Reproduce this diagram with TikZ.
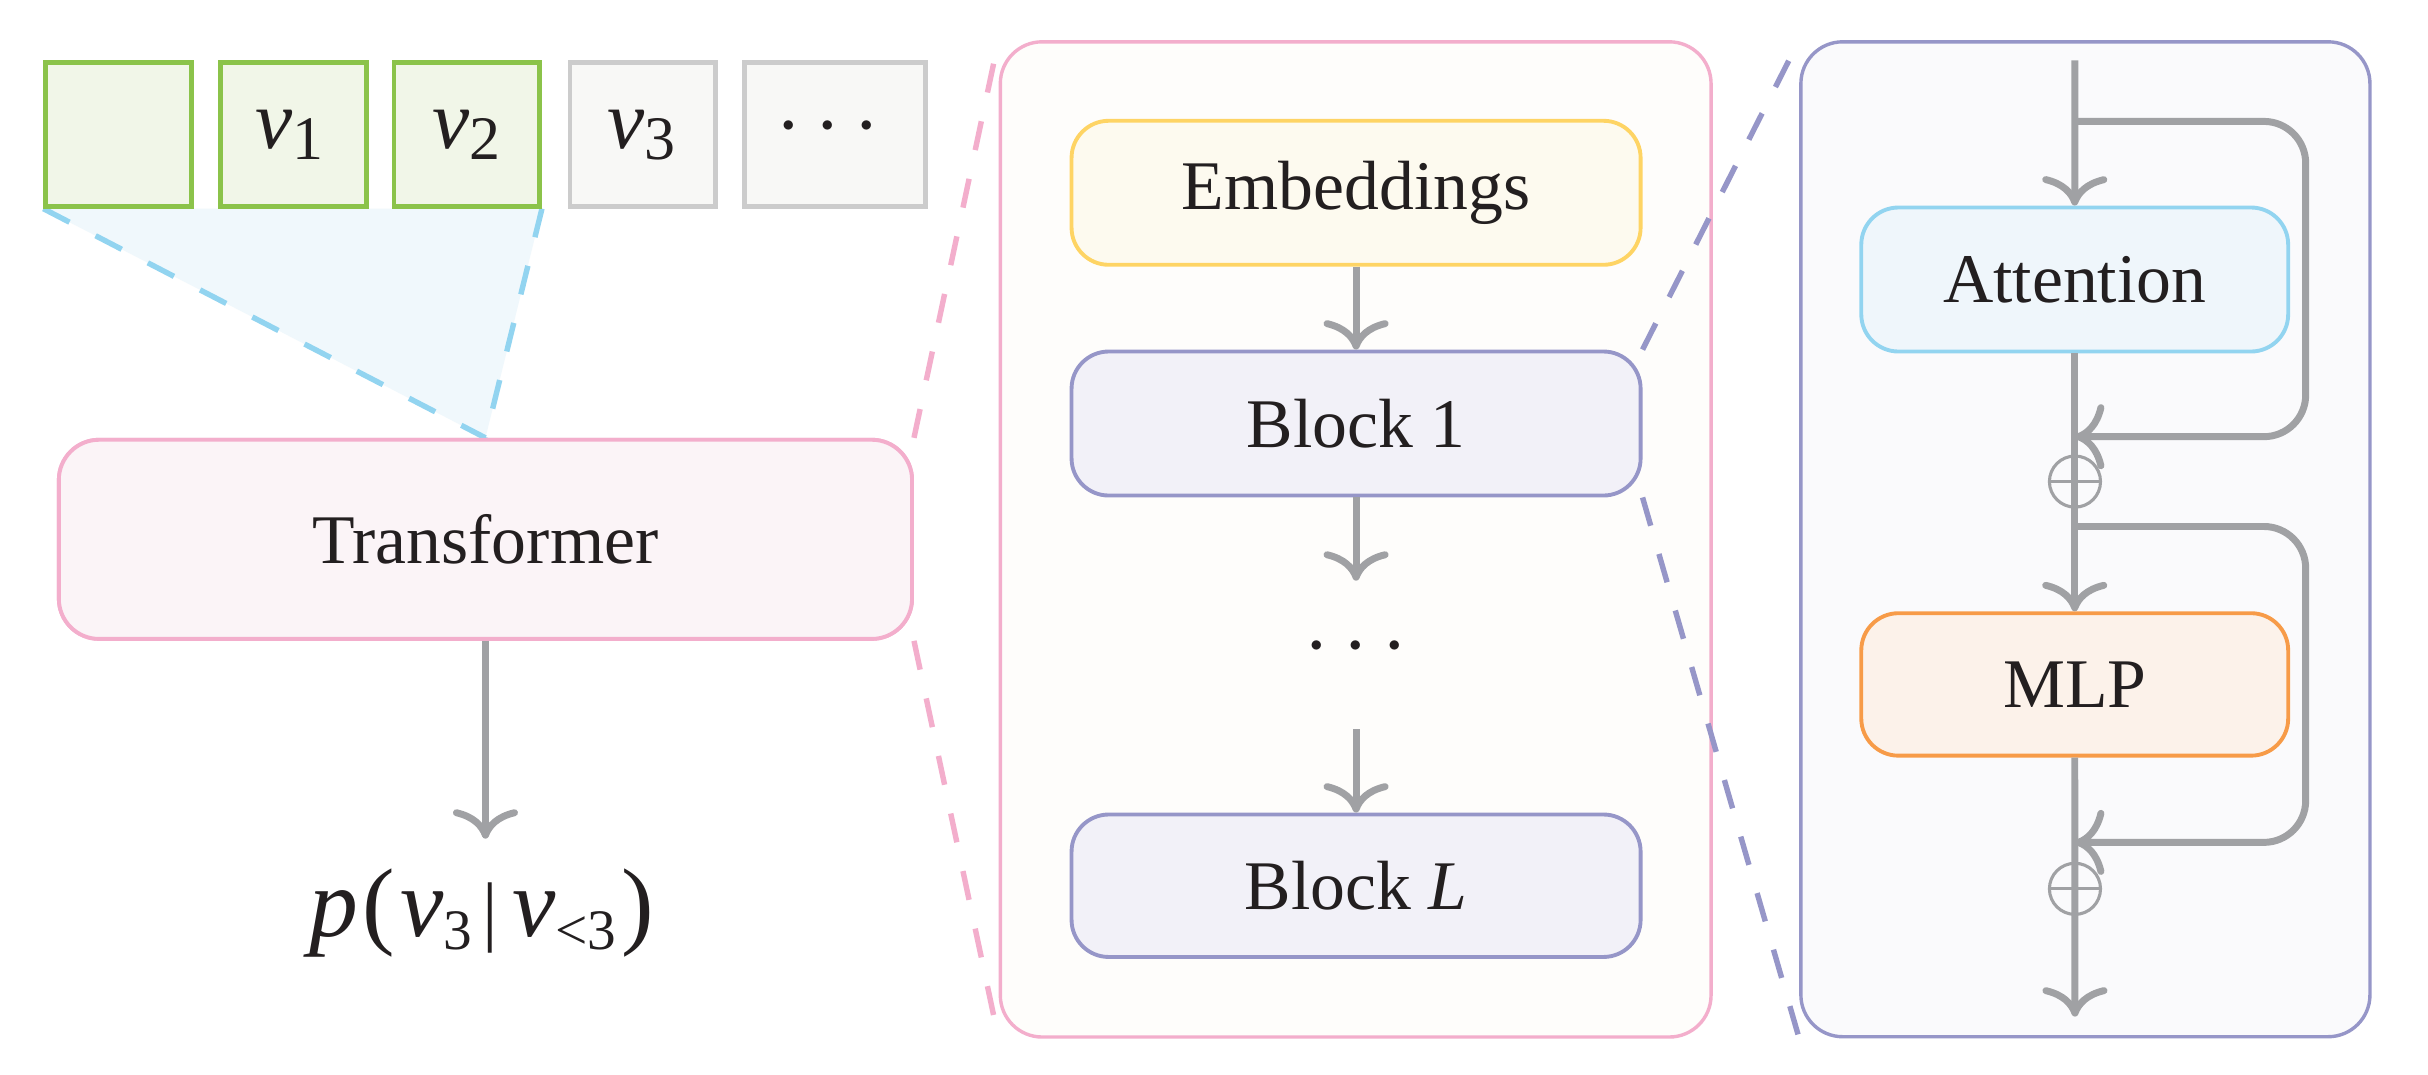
\documentclass[tikz,border=0pt]{standalone}
\usepackage{graphicx}
\usepackage{fontspec}
\setmainfont{Liberation Serif}
\usetikzlibrary{arrows.meta}
\definecolor{txt}{RGB}{35,31,32}
\definecolor{grnB}{RGB}{139,195,74}
\definecolor{grnF}{RGB}{241,246,232}
\definecolor{gryB}{RGB}{204,204,204}
\definecolor{gryF}{RGB}{248,248,246}
\definecolor{bluB}{RGB}{146,212,240}
\definecolor{bluF}{RGB}{240,248,252}
\definecolor{pnkB}{RGB}{243,174,204}
\definecolor{pnkF}{RGB}{251,244,247}
\definecolor{crmF}{RGB}{254,253,251}
\definecolor{ylwB}{RGB}{254,212,100}
\definecolor{ylwF}{RGB}{253,250,239}
\definecolor{prpB}{RGB}{150,150,200}
\definecolor{prpF}{RGB}{242,241,248}
\definecolor{panF}{RGB}{250,250,252}
\definecolor{atnF}{RGB}{239,246,251}
\definecolor{orgB}{RGB}{247,155,72}
\definecolor{orgF}{RGB}{252,242,234}
\definecolor{arr}{RGB}{160,161,164}
\newcommand{\tsub}[1]{\raisebox{-7.5pt}{\fontsize{40}{40}\selectfont #1}}
\newcommand{\lsub}[1]{\raisebox{-8pt}{\fontsize{37}{37}\selectfont #1}}
\newcommand{\bigdots}{\scalebox{5.7}{\normalsize$\cdots$}}
\begin{document}
\begin{tikzpicture}[x=1pt,y=-1pt,
  tokbox/.style={draw, line width=3pt, minimum width=94pt, minimum height=93pt, inner sep=0pt},
  greentok/.style={tokbox, draw=grnB, fill=grnF},
  graytok/.style={tokbox, draw=gryB, fill=gryF},
  blockbox/.style={draw, rounded corners=24pt, line width=2.5pt, inner sep=0pt,
     minimum width=367.5pt, minimum height=93pt, text=txt, font=\fontsize{45}{54}\selectfont},
  panelbox/.style={draw, rounded corners=27pt, line width=2.2pt, inner sep=0pt},
  gline/.style={draw=arr, line width=4.5pt},
  garr/.style={gline, -{Computer Modern Rightarrow[length=19pt,width=42pt]}},
  dsh/.style={line width=3.5pt, dash pattern=on 19pt off 19pt},
  oplus/.style={circle, draw=arr, line width=2pt, minimum size=33pt, inner sep=0pt},
  vtxt/.style={anchor=base, text=txt, inner sep=0pt, font=\fontsize{54}{60}\selectfont},
  dotstxt/.style={anchor=base, text=txt, inner sep=0pt}
]
\fill[white] (0,0) rectangle (1568,694);
\useasboundingbox (0,0) rectangle (1568,694);

% token boxes (positions first for triangle)
\path node[greentok] (tk0) at (76.5,86.75) {}
      node[greentok] (tk1) at (189.5,86.75) {}
      node[greentok] (tk2) at (301.5,86.75) {};
\path node[blockbox, draw=pnkB, fill=pnkF, rounded corners=26pt, minimum width=551pt, minimum height=128.6pt] (trans) at (313.5,348.3) {};

% triangle
\fill[bluF] (tk0.south west) -- (tk2.south east) -- (trans.north) -- cycle;
\draw[dsh, bluB] (tk0.south west) -- (trans.north);
\draw[dsh, bluB] (tk2.south east) -- (trans.north);

% tokens redrawn on top
\node[greentok] at (tk0) {};
\node[greentok] at (tk1) {};
\node[greentok] at (tk2) {};
\node[graytok] (tk3) at (415,86.75) {};
\node[graytok, minimum width=117pt] (tk4) at (539.2,86.75) {};
\node[vtxt] (v1) at (187,95.8) {\textit{v}\tsub{1}};
\node[vtxt] (v2) at (301.5,95.8) {\textit{v}\tsub{2}};
\node[vtxt] (v3) at (414,95.8) {\textit{v}\tsub{3}};
\node[dotstxt] (d1) at (534.5,95) {\bigdots};

% transformer
\node[blockbox, draw=pnkB, fill=pnkF, rounded corners=26pt, minimum width=551pt, minimum height=128.6pt] (trans2) at (313.5,348.3) {Transformer};
\coordinate (pout) at (313.5,541.6);
\draw[garr] (trans2.south) -- (pout);
\node[anchor=base, text=txt, inner sep=0pt, font=\fontsize{63}{72}\selectfont] (lbl) at (311,605)
  {\textit{p}\kern3pt(\kern3pt\textit{v}\lsub{3}\kern7pt{\fontsize{50}{50}\selectfont|}\kern9pt\textit{v}\lsub{<3}\kern3pt)};

% panels
\node[panelbox, draw=pnkB, fill=crmF, minimum width=459pt, minimum height=642.7pt] (mid) at (875.5,348.35) {};
\node[panelbox, draw=prpB, fill=panF, minimum width=367.5pt, minimum height=642.5pt] (rp) at (1346.75,348.25) {};

% pink zoom lines
\draw[dsh, pnkB] (trans2.north east) -- (mid.north west);
\draw[dsh, pnkB] (trans2.south east) -- (mid.south west);

% middle panel content
\node[blockbox, draw=ylwB, fill=ylwF] (emb) at (875.75,124.5) {Embeddings};
\node[blockbox, draw=prpB, fill=prpF] (b1) at (875.75,273.5) {Block 1};
\node[blockbox, draw=prpB, fill=prpF, minimum height=92pt] (bL) at (875.75,572) {Block \textit{L}};
\coordinate (m1) at (875.75,375);
\coordinate (m2) at (875.75,471);
\draw[garr] (emb.south) -- (b1.north);
\draw[garr] (b1.south) -- (m1);
\draw[garr] (m2) -- (bL.north);
\node[dotstxt] (d2) at (875.75,431) {\bigdots};

% purple zoom lines
\draw[dsh, prpB] (b1.north east) -- (rp.north west);
\draw[dsh, prpB] (b1.south east) -- (rp.south west);

% right panel content
\node[blockbox, draw=bluB, fill=atnF, minimum width=275.7pt] (att) at (1339.85,180.5) {Attention};
\node[blockbox, draw=orgB, fill=orgF, minimum width=275.7pt, minimum height=92pt] (mlp) at (1339.85,442) {MLP};
\coordinate (top) at (1340,39);
\coordinate (s1) at (1340,78.4);
\coordinate (c1) at (1489,78.4);
\coordinate (r1) at (1340,282);
\coordinate (s2) at (1340,340);
\coordinate (c2) at (1489,340);
\coordinate (r2) at (1340,544);
\coordinate (bot) at (1340,656.5);
\draw[garr] (top) -- (att.north);
\draw[garr, rounded corners=27pt] (s1) -- (c1) |- (r1);
\draw[garr] (att.south) -- (mlp.north);
\draw[garr, rounded corners=27pt] (s2) -- (c2) |- (r2);
\draw[garr] (mlp.south) -- (bot);
\node[oplus] (op1) at (1340,311) {};
\draw[draw=arr, line width=2pt] (op1.west) -- (op1.east);
\node[oplus] (op2) at (1340,574) {};
\draw[draw=arr, line width=2pt] (op2.west) -- (op2.east);
\end{tikzpicture}
\end{document}
